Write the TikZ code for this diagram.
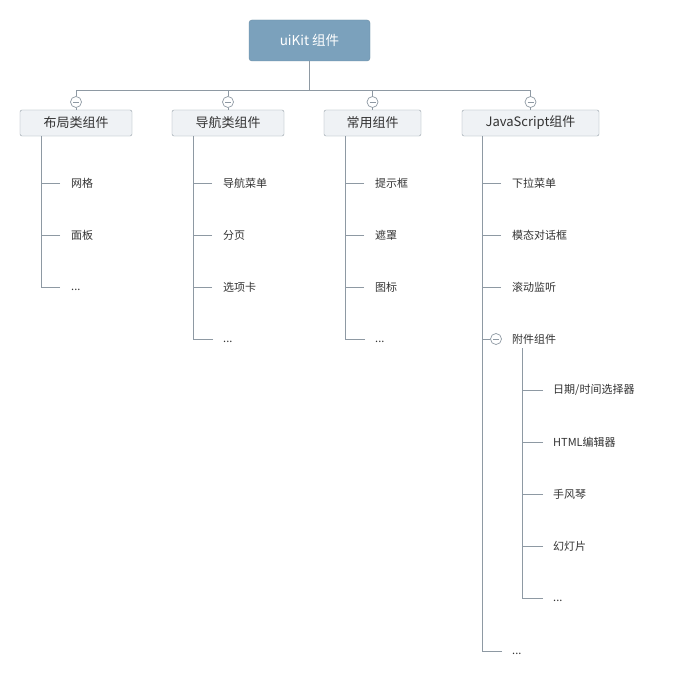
\documentclass[tikz,border=0pt]{standalone}
\usepackage{fontspec}
\setmainfont{Noto Sans CJK SC}
\definecolor{rootfill}{HTML}{7BA1BC}
\definecolor{rootdraw}{HTML}{6A8DA6}
\definecolor{boxfill}{HTML}{EFF2F5}
\definecolor{boxdraw}{HTML}{949EA8}
\definecolor{linec}{HTML}{8E99A3}
\definecolor{txt}{HTML}{333333}
\begin{document}
\begin{tikzpicture}[x=1pt,y=-1pt,
  rootbox/.style={draw=rootdraw,fill=rootfill,rounded corners=3pt,text=white,font=\fontsize{13.5}{15}\selectfont,minimum width=121pt,minimum height=41pt,inner sep=0pt},
  catbox/.style={draw=boxdraw,fill=boxfill,rounded corners=2pt,text=txt,font=\fontsize{13}{15}\selectfont,minimum height=26pt,inner sep=0pt},
  leaf/.style={anchor=west,text=txt,font=\fontsize{11}{13}\selectfont,inner sep=0pt},
  dots/.style={leaf,yshift=-3pt},
  conn/.style={draw=linec,line width=0.8pt},
  toggle/.style={circle,draw=linec,fill=white,line width=0.7pt,minimum size=11pt,inner sep=0pt,path picture={\draw[linec,line width=0.7pt] ([xshift=-3pt]path picture bounding box.center) -- ([xshift=3pt]path picture bounding box.center);}}
]
\useasboundingbox[fill=white] (0,0) rectangle (673,682);

% root
\node[rootbox] (root) at (309.5,40.5) {uiKit 组件};

% categories
\node[catbox,minimum width=112pt] (c1) at (76,123) {布局类组件};
\node[catbox,minimum width=112pt] (c2) at (228,123) {导航类组件};
\node[catbox,minimum width=97pt] (c3) at (372.5,123) {常用组件};
\node[catbox,minimum width=137pt] (c4) at (530.5,123) {JavaScript组件};

% toggles
\node[toggle] (t1) at (76,102) {};
\node[toggle] (t2) at (228,102) {};
\node[toggle] (t3) at (372.5,102) {};
\node[toggle] (t4) at (530.5,102) {};

% bus
\coordinate (busm) at (309.5,90);
\coordinate (bl) at (76,90);
\coordinate (br) at (530.5,90);
\draw[conn] (root.south) -- (busm);
\draw[conn] (bl) -- (br);
\foreach \i in {1,2,3,4}{
  \draw[conn] (t\i.north) -- (t\i.north |- bl);
  \draw[conn] (t\i.south) -- (c\i.north -| t\i.south);
}

% column 1 (x line 41)
\coordinate (a0) at (41,136);
\node[leaf] (a1) at (71,183) {网格};
\node[leaf] (a2) at (71,235) {面板};
\coordinate (a3t) at (60,287);
\node[dots] (a3) at (71,287) {...};
\draw[conn] (a0) -- (a0 |- a3t);
\foreach \n in {a1,a2}{ \draw[conn] (\n.west) ++(-11,0) -- (\n.west -| a0); }
\draw[conn] (a3t) -- (a3t -| a0);

% column 2 (x line 193)
\coordinate (b0) at (193,136);
\node[leaf] (b1) at (223,183) {导航菜单};
\node[leaf] (b2) at (223,235) {分页};
\node[leaf] (b3) at (223,287) {选项卡};
\coordinate (b4t) at (213,339);
\node[dots] (b4) at (223,339) {...};
\draw[conn] (b0) -- (b0 |- b4t);
\foreach \n in {b1,b2,b3}{ \draw[conn] (\n.west) ++(-11,0) -- (\n.west -| b0); }
\draw[conn] (b4t) -- (b4t -| b0);

% column 3 (x line 345)
\coordinate (d0) at (345,136);
\node[leaf] (d1) at (375,183) {提示框};
\node[leaf] (d2) at (375,235) {遮罩};
\node[leaf] (d3) at (375,287) {图标};
\coordinate (d4t) at (365,339);
\node[dots] (d4) at (375,339) {...};
\draw[conn] (d0) -- (d0 |- d4t);
\foreach \n in {d1,d2,d3}{ \draw[conn] (\n.west) ++(-11,0) -- (\n.west -| d0); }
\draw[conn] (d4t) -- (d4t -| d0);

% column 4 (x line 482)
\coordinate (e0) at (482,136);
\node[leaf] (e1) at (512,183) {下拉菜单};
\node[leaf] (e2) at (512,235) {模态对话框};
\node[leaf] (e3) at (512,287) {滚动监听};
\node[leaf] (e4) at (512,339) {附件组件};
\coordinate (e5t) at (502,651);
\node[dots] (e5) at (512,651) {...};
\draw[conn] (e0) -- (e0 |- e5t);
\foreach \n in {e1,e2,e3}{ \draw[conn] (\n.west) ++(-11,0) -- (\n.west -| e0); }
\draw[conn] (e5t) -- (e5t -| e0);
\node[toggle] (t5) at (496,339) {};
\draw[conn] (t5.west) -- (t5.west -| e0);

% sub column (x line 522)
\coordinate (f0) at (522,348);
\node[leaf] (f1) at (553,390) {日期/时间选择器};
\node[leaf] (f2) at (553,442) {HTML编辑器};
\node[leaf] (f3) at (553,494) {手风琴};
\node[leaf] (f4) at (553,546) {幻灯片};
\coordinate (f5t) at (543,598);
\node[dots] (f5) at (553,598) {...};
\draw[conn] (f0) -- (f0 |- f5t);
\foreach \n in {f1,f2,f3,f4}{ \draw[conn] (\n.west) ++(-10,0) -- (\n.west -| f0); }
\draw[conn] (f5t) -- (f5t -| f0);
\end{tikzpicture}
\end{document}
